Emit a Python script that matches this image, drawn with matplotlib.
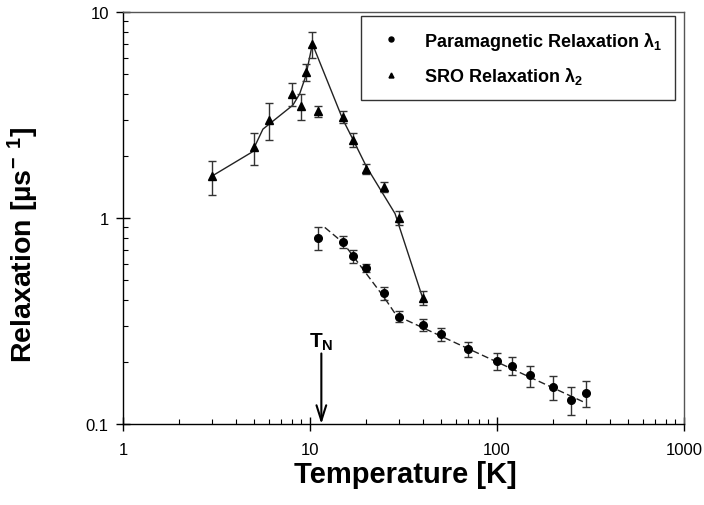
import matplotlib
matplotlib.use('Agg')
import matplotlib.pyplot as plt
from matplotlib import ticker

plt.rcParams['font.family'] = ['Liberation Sans', 'DejaVu Sans']
plt.rcParams['mathtext.fontset'] = 'custom'
plt.rcParams['mathtext.rm'] = 'Liberation Sans:bold'
plt.rcParams['mathtext.it'] = 'Liberation Sans:bold'
plt.rcParams['mathtext.bf'] = 'Liberation Sans:bold'

# paramagnetic relaxation lambda_1 (circles)
temp_para = [11, 15, 17, 20, 25, 30, 40, 50, 70, 100, 120, 150, 200, 250, 300]
lam_para = [0.80, 0.765, 0.652, 0.573, 0.432, 0.332, 0.302, 0.272, 0.231,
            0.202, 0.192, 0.172, 0.151, 0.131, 0.141]
err_para = [0.10, 0.05, 0.045, 0.027, 0.03, 0.02, 0.02, 0.02, 0.02,
            0.02, 0.02, 0.02, 0.02, 0.02, 0.02]

# SRO relaxation lambda_2 (triangles)
temp_sro = [3, 5, 6, 8, 9, 9.5, 10.3, 11, 15, 17, 20, 25, 30, 40]
lam_sro = [1.6, 2.2, 3.0, 4.0, 3.5, 5.1, 7.0, 3.3, 3.1, 2.4, 1.73, 1.41, 1.0, 0.41]
err_sro = [0.3, 0.4, 0.6, 0.5, 0.5, 0.5, 1.0, 0.2, 0.2, 0.18, 0.09, 0.08, 0.08, 0.03]

# guide lines drawn through the data
sro_line_t = [3, 4.9, 5.6, 8.1, 8.8, 9.5, 10.3, 15, 17, 20, 24.2, 28.5, 40]
sro_line_v = [1.6, 2.09, 2.7, 3.53, 4.0, 4.9, 7.0, 3.0, 2.4, 1.78, 1.34, 1.05, 0.41]
para_line_t = [12, 15, 25, 29, 290]
para_line_v = [0.9, 0.76, 0.41, 0.336, 0.128]

t_neel = 11.5
labels = ['Paramagnetic Relaxation $\\lambda_1$', 'SRO Relaxation $\\lambda_2$']

fig = plt.figure(figsize=(7.04, 5.06), dpi=100)
ax = fig.add_axes([123 / 704, 1 - 425 / 506, 561 / 704, 412 / 506])

ax.plot(sro_line_t, sro_line_v, color='#222222', lw=1.0)
ax.plot(para_line_t, para_line_v, color='#222222', lw=1.0, dashes=(5, 2.5))

ax.errorbar(temp_para, lam_para, yerr=err_para, fmt='none', ecolor='#333333',
            elinewidth=1, capsize=3, capthick=1)
ax.errorbar(temp_sro, lam_sro, yerr=err_sro, fmt='none', ecolor='#333333',
            elinewidth=1, capsize=3, capthick=1)
ax.plot(temp_para, lam_para, 'o', color='black', ms=5.5, label=labels[0])
ax.plot(temp_sro, lam_sro, '^', color='black', ms=5.5, label=labels[1])

ax.set_xscale('log')
ax.set_yscale('log')
ax.set_xlim(1, 1000)
ax.set_ylim(0.1, 10)

fmt = ticker.FuncFormatter(lambda v, p: '%g' % v)
ax.xaxis.set_major_formatter(fmt)
ax.yaxis.set_major_formatter(fmt)
ax.xaxis.set_minor_formatter(ticker.NullFormatter())
ax.yaxis.set_minor_formatter(ticker.NullFormatter())

ax.tick_params(which='major', direction='inout', length=9.4, width=1, labelsize=12)
ax.tick_params(axis='x', which='major', pad=8.5)
ax.tick_params(axis='y', which='major', pad=5.5)
ax.tick_params(which='minor', direction='in', length=3.5, width=0.8)
for side in ['top', 'right']:
    ax.spines[side].set_color('#555555')
for side in ax.spines:
    ax.spines[side].set_linewidth(1)

# Neel temperature marker
ax.annotate('', xy=(t_neel, 0.1), xytext=(t_neel, 0.22),
            arrowprops=dict(arrowstyle='->, head_length=1.1, head_width=0.35',
                            mutation_scale=10, lw=1.5, color='black',
                            shrinkA=0, shrinkB=0))
ax.text(t_neel, 0.238, '$T_N$', ha='center', va='baseline', fontsize=15)

leg = ax.legend(loc='upper right', bbox_to_anchor=(0.984, 0.990), borderaxespad=0,
                fancybox=False, edgecolor='black', prop={'weight': 'bold', 'size': 13},
                handlelength=1.8, handletextpad=0.9, borderpad=0.75,
                labelspacing=0.75, markerscale=0.65)
leg.get_frame().set_linewidth(1)

fig.text(405 / 704, 1 - 475 / 506, 'Temperature [K]', ha='center', va='center',
         fontsize=21, fontweight='bold')
fig.text(23 / 704, 1 - 245 / 506, 'Relaxation [µs$^{-}$ $^{1}$]', ha='center',
         va='center', rotation=90, fontsize=20.5, fontweight='bold')

fig.savefig('out.png', dpi=100)
